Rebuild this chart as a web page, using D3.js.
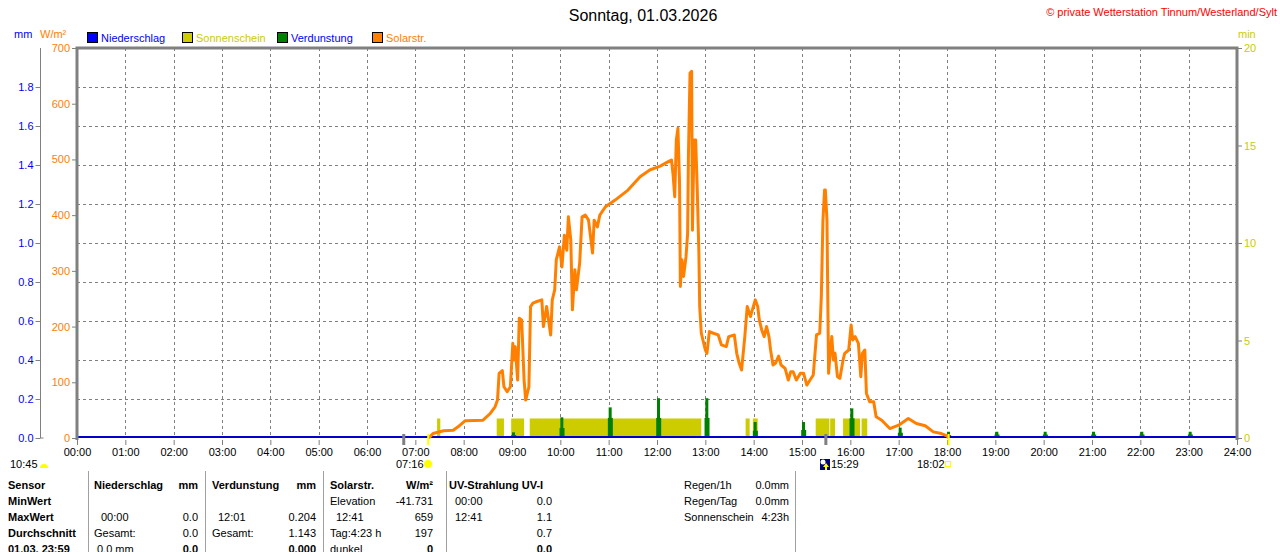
<!DOCTYPE html>
<html>
<head>
<meta charset="utf-8">
<style>
  html, body { margin: 0; padding: 0; background: #fff; }
  svg { display: block; font-family: "Liberation Sans", Arial, sans-serif; font-size: 11px; }
  .grid line { stroke: #808080; stroke-dasharray: 3,3; }
  .axis path, .axis line { stroke: #808080; }
</style>
</head>
<body>
<svg id="chart" width="1280" height="552"></svg>

<script src="https://cdn.jsdelivr.net/npm/d3@7"></script>
<script>
// Solarstrahlung W/m²
var solarTimes = ["07:16","07:18","07:22","07:35","07:47","07:53","08:02","08:24","08:33","08:39","08:42","08:44","08:48","08:50","08:54","08:58",
  "09:01","09:02","09:04","09:07","09:09","09:12","09:15","09:17","09:21","09:23","09:26","09:31","09:37","09:39","09:43","09:48","09:50","09:53","09:55","09:59",
  "10:02","10:05","10:08","10:10","10:13","10:15","10:18","10:20","10:24","10:27","10:31","10:35","10:37","10:40","10:42","10:46","10:49","10:56",
  "11:08","11:24","11:39","11:51","12:04","12:14","12:18","12:20","12:22","12:24","12:26","12:28","12:29","12:31","12:33","12:36","12:38","12:39","12:41","12:43","12:44","12:46","12:48","12:50","12:52","12:53","12:55",
  "13:00","13:02","13:05","13:10","13:16","13:20","13:26","13:29","13:36","13:39","13:42","13:45","13:49","13:52","13:56","13:59",
  "14:02","14:05","14:07","14:10","14:13","14:16","14:19","14:21","14:24","14:27","14:31","14:34","14:39","14:43","14:46","14:49","14:53","14:58",
  "15:02","15:06","15:10","15:14","15:18","15:22","15:24","15:26","15:28","15:29","15:31","15:33","15:35","15:37","15:39","15:41","15:44","15:47","15:51","15:53","15:58",
  "16:01","16:03","16:06","16:10","16:13","16:15","16:18","16:20","16:24","16:29","16:32","16:39","16:49","17:00","17:12","17:22","17:33","17:43","17:53","18:00","18:02"];
var solarValues = [0,2,8,13,14,20,31,32,44,56,68,116,121,92,83,92,
  170,140,164,104,215,212,104,68,92,236,242,245,248,200,236,185,248,266,320,343,
  307,364,337,397,355,230,302,266,314,397,400,391,367,332,391,379,400,415,
  427,445,469,481,488,496,499,472,433,535,556,457,272,320,290,325,367,505,655,658,373,535,535,445,332,236,188,
  158,152,191,188,185,167,164,182,185,152,134,122,182,236,218,233,
  248,236,212,194,182,200,182,158,131,134,147,131,125,104,119,119,104,116,
  116,95,104,113,185,188,254,391,445,445,391,116,152,182,140,152,110,107,140,152,158,
  203,176,182,170,110,152,158,80,65,65,38,32,17,23,35,26,22,11,8,4,0];

// Sonnenschein (min), periods with sunshine
var sunStart = ["07:27","08:41","08:59","09:22","13:50","13:59","15:17","15:35","15:51","16:14"];
var sunEnd   = ["07:31","08:50","09:15","12:55","13:55","14:05","15:34","15:41","16:12","16:21"];
var sunMinutes = [1,1,1,1,1,1,1,1,1,1];

// Verdunstung mm per hour (peak and lower shoulder)
var verdHours = [9,10,11,12,13,14,15,16,17,18,19,20,21,22,23];
var verdPeak  = [0.029,0.106,0.157,0.204,0.204,0.082,0.082,0.152,0.053,0.032,0.032,0.032,0.032,0.032,0.032];
var verdBase  = [0.015,0.051,0.103,0.103,0.103,0.037,0.041,0.101,0.027,0.015,0.018,0.018,0.018,0.018,0.018];

// Niederschlag mm
var rainTimes = ["00:00","24:00"];
var rainValues = [0, 0];

// Tick labels
var mmTicks = [0,0.2,0.4,0.6,0.8,1.0,1.2,1.4,1.6,1.8];
var wTicks = [0,100,200,300,400,500,600,700];
var minTicks = [0,5,10,15,20];
var hourTicks = d3.range(0, 25);

// Sun / moon events under the axis
var greyMarks = ["06:45","15:29"];
var yellowMarks = ["07:16","18:02"];

function hrs(s) { var p = s.split(":"); return +p[0] + p[1] / 60; }
function pad(n) { return (n < 10 ? "0" : "") + n; }

var svg = d3.select("#chart");

var pLeft = 77, pRight = 1237, pTop = 48, pBottom = 438;
var x = d3.scaleLinear().domain([0, 24]).range([pLeft, pRight]);
var yW = d3.scaleLinear().domain([0, 700]).range([pBottom, pTop]);
var yMm = d3.scaleLinear().domain([0, 2]).range([pBottom, pTop]);
var yMin = d3.scaleLinear().domain([0, 20]).range([pBottom, pTop]);

// Title and header texts
svg.append("text").attr("x", 643).attr("y", 21).attr("text-anchor", "middle")
  .style("font-size", "16px").attr("fill", "#000").text("Sonntag, 01.03.2026");
svg.append("text").attr("x", 1277).attr("y", 16).attr("text-anchor", "end")
  .attr("fill", "#ff0000").text("© private Wetterstation Tinnum/Westerland/Sylt");

svg.append("text").attr("x", 14).attr("y", 38).attr("fill", "#0000ff").text("mm");
svg.append("text").attr("x", 40).attr("y", 38).attr("fill", "#ff8000").text("W/m²");
svg.append("text").attr("x", 1238).attr("y", 38).attr("fill", "#cccc00").text("min");

// Legend
var legend = [
  {name: "Niederschlag", box: "#0000ff", text: "#0000ff", x: 87},
  {name: "Sonnenschein", box: "#cccc00", text: "#cccc00", x: 182},
  {name: "Verdunstung", box: "#008000", text: "#0000ff", x: 277},
  {name: "Solarstr.", box: "#ff8000", text: "#ff8000", x: 372}
];
var lg = svg.append("g").selectAll("g").data(legend).enter().append("g");
lg.append("rect").attr("x", function(d) { return d.x + 0.5; }).attr("y", 32.5)
  .attr("width", 10).attr("height", 10).attr("fill", function(d) { return d.box; }).attr("stroke", "#000");
lg.append("text").attr("x", function(d) { return d.x + 14; }).attr("y", 42)
  .attr("fill", function(d) { return d.text; }).text(function(d) { return d.name; });

// Grid
var grid = svg.append("g").attr("class", "grid");
grid.selectAll(".h").data(mmTicks.slice(1)).enter().append("line")
  .attr("x1", pLeft).attr("x2", pRight)
  .attr("y1", function(d) { return Math.round(yMm(d)) + 0.5; })
  .attr("y2", function(d) { return Math.round(yMm(d)) + 0.5; });
grid.selectAll(".v").data(hourTicks.slice(1, 24)).enter().append("line")
  .attr("y1", pTop).attr("y2", pBottom)
  .attr("x1", function(d) { return Math.round(x(d)) + 0.5; })
  .attr("x2", function(d) { return Math.round(x(d)) + 0.5; });

// Sunshine bars
svg.append("g").selectAll("rect").data(sunStart).enter().append("rect")
  .attr("x", function(d) { return x(hrs(d)); })
  .attr("width", function(d, i) { return x(hrs(sunEnd[i])) - x(hrs(d)); })
  .attr("y", function(d, i) { return yMin(sunMinutes[i]); })
  .attr("height", function(d, i) { return pBottom - yMin(sunMinutes[i]); })
  .attr("fill", "#cccc00");

// Evaporation bars
var vg = svg.append("g");
vg.selectAll(".b").data(verdHours).enter().append("rect")
  .attr("x", function(d) { return x(d - 1 / 60); })
  .attr("width", 5)
  .attr("y", function(d, i) { return yMm(verdBase[i]); })
  .attr("height", function(d, i) { return pBottom - yMm(verdBase[i]); })
  .attr("fill", "#008000");
vg.selectAll(".p").data(verdHours).enter().append("rect")
  .attr("x", function(d) { return x(d); })
  .attr("width", 3)
  .attr("y", function(d, i) { return yMm(verdPeak[i]); })
  .attr("height", function(d, i) { return pBottom - yMm(verdPeak[i]); })
  .attr("fill", "#008000");

// Rain line (zero)
svg.append("path")
  .datum(rainTimes.map(function(t, i) { return [hrs(t), rainValues[i]]; }))
  .attr("fill", "none").attr("stroke", "#0000cc").attr("stroke-width", 2)
  .attr("d", d3.line().x(function(d) { return x(d[0]); }).y(function(d) { return yMm(d[1]) - 1; }));

// Solar line
svg.append("path")
  .datum(solarTimes.map(function(t, i) { return [hrs(t), solarValues[i]]; }))
  .attr("fill", "none").attr("stroke", "#ff8000").attr("stroke-width", 3)
  .attr("stroke-linejoin", "round")
  .attr("d", d3.line().x(function(d) { return x(d[0]); }).y(function(d) { return yW(d[1]); }));

// Frame
svg.append("path")
  .attr("d", "M" + pLeft + "," + (pBottom + 2) + "V" + pTop + "H" + pRight + "V" + (pBottom + 2))
  .attr("fill", "none").attr("stroke", "#808080").attr("stroke-width", 3);

// Axes
var mmAxis = svg.append("g").attr("class", "axis").attr("transform", "translate(40.5,0)")
  .call(d3.axisLeft(yMm).tickValues(mmTicks).tickFormat(d3.format(".1f")).tickSize(5).tickSizeOuter(0).tickPadding(2));
mmAxis.select(".domain").attr("d", "M0," + pTop + "V" + pBottom + "H3");
mmAxis.selectAll("text").attr("fill", "#0000ff").style("font-size", "11px").style("font-family", "Liberation Sans, Arial");

var wAxis = svg.append("g").attr("class", "axis").attr("transform", "translate(" + (pLeft - 1) + ",0)")
  .call(d3.axisLeft(yW).tickValues(wTicks).tickSize(4).tickPadding(2));
wAxis.select(".domain").remove();
wAxis.selectAll("text").attr("fill", "#ff8000").style("font-size", "11px").style("font-family", "Liberation Sans, Arial");

var minAxis = svg.append("g").attr("class", "axis").attr("transform", "translate(" + (pRight + 1) + ",0)")
  .call(d3.axisRight(yMin).tickValues(minTicks).tickSize(4).tickPadding(2));
minAxis.select(".domain").remove();
minAxis.selectAll("text").attr("fill", "#cccc00").style("font-size", "11px").style("font-family", "Liberation Sans, Arial");

var xAxis = svg.append("g").attr("class", "axis").attr("transform", "translate(0," + (pBottom + 2) + ")")
  .call(d3.axisBottom(x).tickValues(hourTicks).tickFormat(function(d) { return pad(d) + ":00"; }).tickSize(5).tickPadding(3));
xAxis.select(".domain").remove();
xAxis.selectAll("text").attr("fill", "#000").style("font-size", "11px").style("font-family", "Liberation Sans, Arial");

// Event marks
svg.append("g").selectAll("rect").data(greyMarks).enter().append("rect")
  .attr("x", function(d) { return x(hrs(d)) - 1; }).attr("y", 434).attr("width", 3).attr("height", 11)
  .attr("fill", "#808080");
svg.append("g").selectAll("rect").data(yellowMarks).enter().append("rect")
  .attr("x", function(d) { return x(hrs(d)) - 1; }).attr("y", 434).attr("width", 2).attr("height", 11)
  .attr("fill", "#ffff00");

// Sun / moon times
svg.append("text").attr("x", 10).attr("y", 468).text("10:45");
svg.append("path").attr("d", "M40,468 A4,4 0 0 1 48,468 Z").attr("fill", "#ffff00");
svg.append("text").attr("x", 396).attr("y", 468).text("07:16");
svg.append("circle").attr("cx", 428).attr("cy", 464).attr("r", 4).attr("fill", "#ffff00");
svg.append("rect").attr("x", 820).attr("y", 459).attr("width", 10).attr("height", 11).attr("fill", "#000080");
svg.append("circle").attr("cx", 823).attr("cy", 462).attr("r", 2.5).attr("fill", "#ffffff");
svg.append("path").attr("d", "M826,463 L829,467 L827,467 L827,470 L825,470 L825,467 L823,467 Z").attr("fill", "#ffff00");
svg.append("text").attr("x", 831).attr("y", 468).text("15:29");
svg.append("text").attr("x", 917).attr("y", 468).text("18:02");
svg.append("rect").attr("x", 945.5).attr("y", 461.5).attr("width", 5).attr("height", 5)
  .attr("fill", "none").attr("stroke", "#ffff00");

// Table
var seps = [88, 205, 323, 446, 795];
svg.append("g").selectAll("line").data(seps).enter().append("line")
  .attr("x1", function(d) { return d + 0.5; }).attr("x2", function(d) { return d + 0.5; })
  .attr("y1", 471).attr("y2", 552).attr("stroke", "#a0a0a0");

var rowY = [489, 505, 521, 537, 553];
var cells = [
  // [x, row, text, bold, anchor]
  [8, 0, "Sensor", 1, "start"], [8, 1, "MinWert", 1, "start"], [8, 2, "MaxWert", 1, "start"],
  [8, 3, "Durchschnitt", 1, "start"], [8, 4, "01.03. 23:59", 1, "start"],
  [94, 0, "Niederschlag", 1, "start"], [198, 0, "mm", 1, "end"],
  [101, 2, "00:00", 0, "start"], [198, 2, "0.0", 0, "end"],
  [94, 3, "Gesamt:", 0, "start"], [198, 3, "0.0", 0, "end"],
  [97, 4, "0.0 mm", 0, "start"], [198, 4, "0.0", 1, "end"],
  [212, 0, "Verdunstung", 1, "start"], [316, 0, "mm", 1, "end"],
  [218, 2, "12:01", 0, "start"], [316, 2, "0.204", 0, "end"],
  [212, 3, "Gesamt:", 0, "start"], [316, 3, "1.143", 0, "end"],
  [316, 4, "0.000", 1, "end"],
  [330, 0, "Solarstr.", 1, "start"], [433, 0, "W/m²", 1, "end"],
  [330, 1, "Elevation", 0, "start"], [433, 1, "-41.731", 0, "end"],
  [336, 2, "12:41", 0, "start"], [433, 2, "659", 0, "end"],
  [330, 3, "Tag:4:23 h", 0, "start"], [433, 3, "197", 0, "end"],
  [330, 4, "dunkel", 0, "start"], [433, 4, "0", 1, "end"],
  [449, 0, "UV-Strahlung UV-I", 1, "start"],
  [455, 1, "00:00", 0, "start"], [552, 1, "0.0", 0, "end"],
  [455, 2, "12:41", 0, "start"], [552, 2, "1.1", 0, "end"],
  [552, 3, "0.7", 0, "end"], [552, 4, "0.0", 1, "end"],
  [684, 0, "Regen/1h", 0, "start"], [789, 0, "0.0mm", 0, "end"],
  [684, 1, "Regen/Tag", 0, "start"], [789, 1, "0.0mm", 0, "end"],
  [684, 2, "Sonnenschein", 0, "start"], [789, 2, "4:23h", 0, "end"]
];
svg.append("g").selectAll("text").data(cells).enter().append("text")
  .attr("x", function(d) { return d[0]; })
  .attr("y", function(d) { return rowY[d[1]]; })
  .attr("text-anchor", function(d) { return d[4]; })
  .style("font-weight", function(d) { return d[3] ? "bold" : "normal"; })
  .attr("fill", "#000")
  .text(function(d) { return d[2]; });
</script>
</body>
</html>
